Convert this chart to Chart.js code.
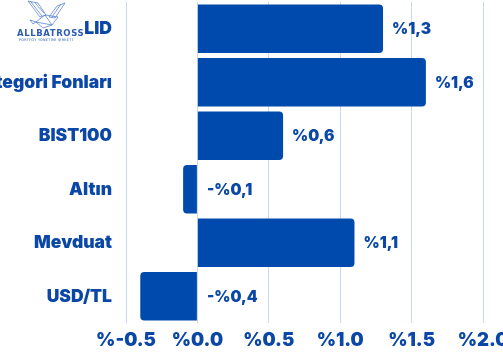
<!DOCTYPE html>
<html>
<head>
<meta charset="utf-8">
<script src="https://cdn.jsdelivr.net/npm/chart.js@4.4.1/dist/chart.umd.min.js"></script>
<style>
  html, body { margin: 0; padding: 0; background: #fff; }
  #wrap { position: relative; width: 503px; height: 354px; overflow: hidden; }
  #logo { position: absolute; left: 14px; top: 0px; width: 60px; height: 44px; }
  #logo .name { position: absolute; left: 3px; top: 28px; font: 700 8.5px "DejaVu Sans", sans-serif;
    letter-spacing: 0.6px; color: #2d5db5; white-space: nowrap; }
  #logo .sub { position: absolute; left: 5px; top: 38px; font: 400 3.4px "DejaVu Sans", sans-serif;
    letter-spacing: 0.3px; color: #2d5db5; white-space: nowrap; }
</style>
</head>
<body>
<div id="wrap">
  <canvas id="returnsChart" width="503" height="354"></canvas>
  <div id="logo">
    <svg width="60" height="30" viewBox="0 0 60 30">
      <g fill="none" stroke="#5b86d0" stroke-width="0.8" stroke-linejoin="round">
        <polygon points="14,1 24,3 32,15 26,17"/>
        <line x1="17" y1="2" x2="28" y2="16"/>
        <line x1="21" y1="3" x2="30" y2="13"/>
        <polygon points="35,17 43,6 51,3 41,18"/>
        <line x1="38" y1="17" x2="47" y2="4"/>
        <polygon points="22,22 31,15 44,17 38,25 29,28"/>
        <line x1="31" y1="15" x2="38" y2="25"/>
        <line x1="22" y1="22" x2="38" y2="25"/>
        <polygon points="16,20 22,22 19,24"/>
      </g>
    </svg>
    <div class="name">ALLBATROSS</div>
    <div class="sub">PORTFÖY YÖNETİMİ ŞİRKETİ</div>
  </div>
</div>
<script>
// 月度收益对比
const categories = ['LID', 'Kategori Fonları', 'BIST100', 'Altın', 'Mevduat', 'USD/TL'];
const returns = [1.3, 1.6, 0.6, -0.1, 1.1, -0.4];
const xTicks = [-0.5, 0.0, 0.5, 1.0, 1.5, 2.0];

const BLUE = '#004aad';
const TEXT = '#0b47a6';
const GRID = '#c9d8f0';

// 柱子旁边的数值标签
const valueLabels = {
  id: 'valueLabels',
  afterDatasetsDraw(chart) {
    const ctx = chart.ctx;
    const meta = chart.getDatasetMeta(0);
    ctx.save();
    ctx.font = '900 15.5px Inter, sans-serif';
    ctx.fillStyle = TEXT;
    ctx.textAlign = 'left';
    ctx.textBaseline = 'middle';
    meta.data.forEach((bar, i) => {
      const v = returns[i];
      const txt = (v < 0 ? '-%' : '%') + Math.abs(v).toFixed(1).replace('.', ',');
      const x = v < 0 ? bar.base + 10 : bar.x + 9;
      ctx.fillText(txt, x, bar.y + 1);
    });
    ctx.restore();
  }
};

new Chart(document.getElementById('returnsChart'), {
  type: 'bar',
  data: {
    labels: categories,
    datasets: [{
      data: returns,
      backgroundColor: BLUE,
      borderRadius: 4,
      barPercentage: 0.91,
      categoryPercentage: 1.0,
    }]
  },
  options: {
    indexAxis: 'y',
    responsive: false,
    animation: false,
    layout: {
      padding: { top: 2, right: 20, left: 0, bottom: 0 }
    },
    plugins: {
      legend: { display: false },
      tooltip: { enabled: false }
    },
    scales: {
      x: {
        min: -0.5,
        max: 2.0,
        afterBuildTicks(scale) {
          scale.ticks = xTicks.map(v => ({ value: v }));
        },
        afterFit(scale) {
          scale.paddingLeft = 0;
          scale.paddingRight = 0;
          scale.height = 31;
        },
        ticks: {
          color: TEXT,
          padding: 6,
          font: { family: 'Inter', size: 18.5, weight: '900' },
          callback: v => '%' + v.toFixed(1)
        },
        grid: { color: GRID, lineWidth: 1, drawTicks: false },
        border: { display: false }
      },
      y: {
        afterFit(scale) {
          scale.width = 126;
          scale.paddingTop = 0;
          scale.paddingBottom = 0;
        },
        ticks: {
          color: TEXT,
          padding: 14,
          font: { family: 'Inter', size: 17.5, weight: '900' }
        },
        grid: { display: false, drawTicks: false },
        border: { display: false }
      }
    }
  },
  plugins: [valueLabels]
});
</script>
</body>
</html>
